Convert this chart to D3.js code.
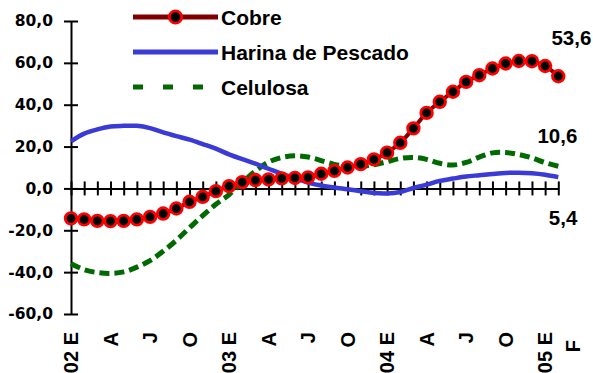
<!DOCTYPE html>
<html>
<head>
<meta charset="utf-8">
<script src="https://cdn.jsdelivr.net/npm/d3@7"></script>
<style>
  html, body { margin: 0; padding: 0; background: #fff; }
  svg { display: block; }
  text { font-family: "Liberation Sans", Arial, sans-serif; font-weight: bold; fill: #000; }
</style>
</head>
<body>
<svg id="chart" width="593" height="373"></svg>
<script>
// Monthly index, Jan 2002 to Feb 2005
const months = d3.range(38);
const monthLabels = [
  "02 E", "", "", "A", "", "", "J", "", "", "O", "", "",
  "03 E", "", "", "A", "", "", "J", "", "", "O", "", "",
  "04 E", "", "", "A", "", "", "J", "", "", "O", "", "",
  "05 E", "F"
];

const cobre = [
  -14.3, -14.8, -15.5, -15.6, -15.5, -14.8, -13.6, -12.0, -9.6, -6.4, -4.0, -1.3,
  1.1, 3.0, 4.0, 4.3, 4.8, 5.0, 5.3, 7.0, 8.4, 10.0, 11.6, 13.9,
  17.1, 21.8, 28.7, 36.1, 41.4, 46.2, 50.9, 54.1, 57.3, 59.7, 60.9, 60.8,
  58.5, 53.6
];
const harina = [
  22.5, 26.2, 28.2, 29.6, 29.9, 29.9, 28.8, 26.8, 25.0, 23.3, 21.2, 19.0,
  16.3, 14.0, 11.8, 9.4, 7.0, 4.9, 2.8, 1.4, 0.4, -0.4, -1.3, -2.2,
  -2.4, -1.7, 0.2, 1.8, 3.6, 4.7, 5.7, 6.3, 6.9, 7.4, 7.5, 7.2,
  6.5, 5.4
];
const celulosa = [
  -36.0, -38.8, -40.2, -40.6, -39.9, -37.6, -34.5, -30.0, -24.8, -18.8, -13.0, -7.6,
  -3.0, 2.8, 8.3, 12.6, 14.8, 15.6, 15.0, 13.3, 11.5, 10.5, 10.5, 11.3,
  12.8, 14.3, 14.8, 13.9, 12.0, 11.2, 12.4, 15.0, 17.0, 17.2, 16.2, 14.6,
  12.3, 10.6
];
const yTicks = [-60, -40, -20, 0, 20, 40, 60, 80];
const seriesNames = ["Cobre", "Harina de Pescado", "Celulosa"];

const svg = d3.select("#chart");
const x = d3.scaleLinear().domain([0, 37]).range([71, 558.3]);
const y = d3.scaleLinear().domain([-60, 80]).range([314, 21]);

const loc = d3.formatLocale({ decimal: ",", thousands: ".", grouping: [3], currency: ["", ""], minus: "-" });
const f1 = loc.format(".1f");

const colors = { cobre: "#800000", ring: "#ff0000", harina: "#3a3ad6", celulosa: "#006a00" };

// Y axis with crossing ticks
const yAxis = svg.append("g")
  .attr("transform", `translate(${x(0)},0)`)
  .call(d3.axisLeft(y).tickValues(yTicks).tickSize(7).tickSizeOuter(0).tickPadding(11).tickFormat(f1));
yAxis.select(".domain").attr("stroke", "#000").attr("stroke-width", 2);
yAxis.selectAll(".tick line").attr("x1", 7).attr("x2", -7).attr("stroke", "#000").attr("stroke-width", 2);
yAxis.selectAll(".tick text")
  .style("font-family", "'DejaVu Sans', Verdana, sans-serif")
  .style("font-weight", "bold")
  .style("font-size", "15.5px")
  .attr("fill", "#000");

// X axis along zero with a tick per month
const xAxis = svg.append("g")
  .attr("transform", `translate(0,${y(0)})`)
  .call(d3.axisBottom(x).tickValues(months).tickSize(7).tickSizeOuter(0).tickFormat(""));
xAxis.select(".domain").attr("stroke", "#000").attr("stroke-width", 2);
xAxis.selectAll(".tick line").attr("y1", -7).attr("y2", 7).attr("stroke", "#000").attr("stroke-width", 2);

// Rotated month labels
svg.append("g").selectAll("text")
  .data(months.filter(i => monthLabels[i] !== ""))
  .join("text")
  .attr("transform", i => {
    const last = i === 37;
    return `translate(${x(i) + (last ? 14 : 0)},${last ? 340 : 332}) rotate(-90)`;
  })
  .attr("text-anchor", "end")
  .attr("dy", "0.36em")
  .style("font-size", "20px")
  .text(i => monthLabels[i]);

const smooth = d3.line().x((d, i) => x(i)).y(d => y(d)).curve(d3.curveCatmullRom.alpha(0.5));

// Celulosa
svg.append("path")
  .attr("d", smooth(celulosa))
  .attr("fill", "none")
  .attr("stroke", colors.celulosa)
  .attr("stroke-width", 5)
  .attr("stroke-dasharray", "10,5");

// Harina de Pescado
svg.append("path")
  .attr("d", smooth(harina))
  .attr("fill", "none")
  .attr("stroke", colors.harina)
  .attr("stroke-width", 4.5);

// Cobre line and markers
svg.append("path")
  .attr("d", smooth(cobre))
  .attr("fill", "none")
  .attr("stroke", colors.cobre)
  .attr("stroke-width", 4);
svg.append("g").selectAll("circle")
  .data(cobre)
  .join("circle")
  .attr("cx", (d, i) => x(i))
  .attr("cy", d => y(d))
  .attr("r", 5.8)
  .attr("fill", "#000")
  .attr("stroke", colors.ring)
  .attr("stroke-width", 2.8);

// Last-value labels
const lastI = 37;
const endLabels = [
  { v: cobre[lastI], dx: 33, dy: -31 },
  { v: celulosa[lastI], dx: 19, dy: -23 },
  { v: harina[lastI], dx: 19, dy: 48 }
];
svg.append("g").selectAll("text")
  .data(endLabels)
  .join("text")
  .attr("x", d => x(lastI) + d.dx)
  .attr("y", d => y(d.v) + d.dy)
  .attr("text-anchor", "end")
  .style("font-size", "20.5px")
  .text(d => f1(d.v));

// Legend
const lg = svg.append("g");
const legendY = [17, 52, 87];
const lx0 = 133, lx1 = 218;
lg.append("line").attr("x1", lx0).attr("x2", lx1).attr("y1", legendY[0]).attr("y2", legendY[0])
  .attr("stroke", colors.cobre).attr("stroke-width", 5);
lg.append("circle").attr("cx", (lx0 + lx1) / 2).attr("cy", legendY[0]).attr("r", 6.2)
  .attr("fill", "#000").attr("stroke", colors.ring).attr("stroke-width", 2.8);
lg.append("line").attr("x1", lx0).attr("x2", lx1).attr("y1", legendY[1]).attr("y2", legendY[1])
  .attr("stroke", colors.harina).attr("stroke-width", 5);
lg.append("line").attr("x1", lx0).attr("x2", lx1 - 10).attr("y1", legendY[2]).attr("y2", legendY[2])
  .attr("stroke", colors.celulosa).attr("stroke-width", 5).attr("stroke-dasharray", "10,20");
lg.selectAll("text")
  .data(seriesNames)
  .join("text")
  .attr("x", 221)
  .attr("y", (d, i) => legendY[i])
  .attr("dy", "0.36em")
  .style("font-size", "21px")
  .text(d => d);
</script>
</body>
</html>
